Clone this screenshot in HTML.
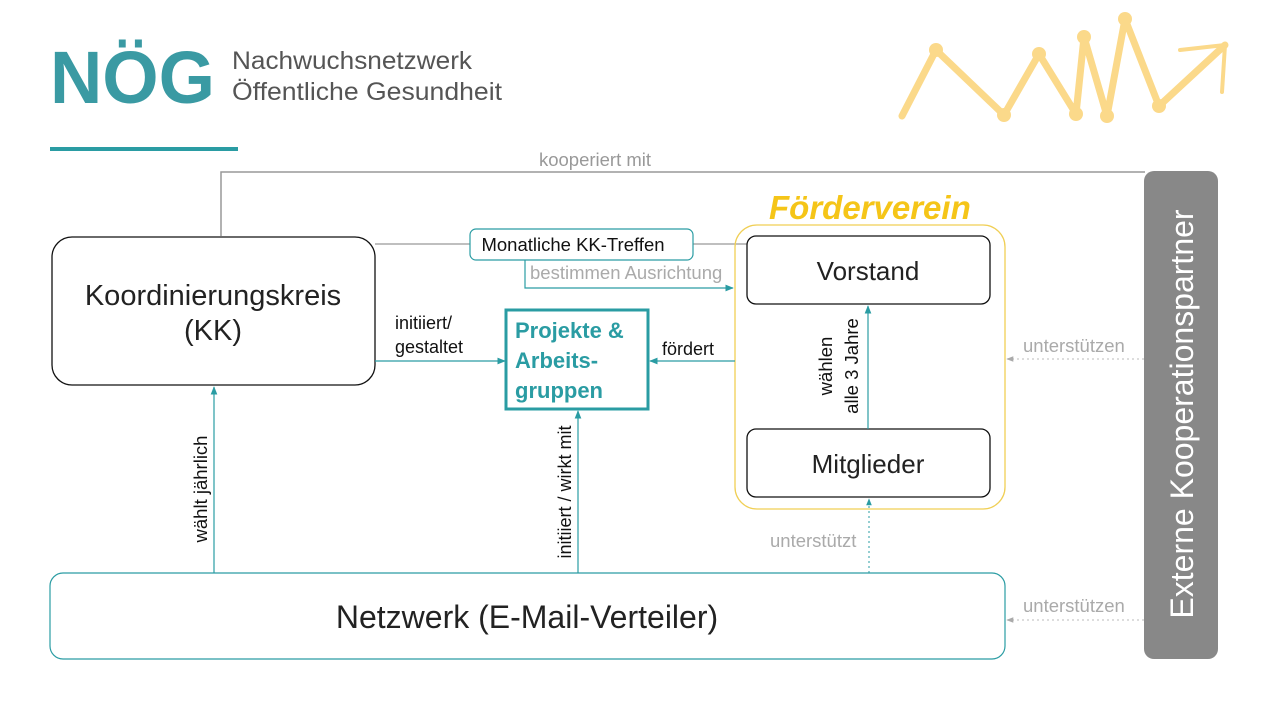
<!DOCTYPE html>
<html><head><meta charset="utf-8"><style>html,body{margin:0;padding:0;background:#fff}svg{display:block}</style></head>
<body>
<svg width="1280" height="720" viewBox="0 0 1280 720" xmlns="http://www.w3.org/2000/svg" font-family="Liberation Sans, sans-serif">
<defs>
<marker id="at" viewBox="0 0 10 10" refX="9" refY="5" markerWidth="7" markerHeight="7" orient="auto"><path d="M0,1 L10,5 L0,9 z" fill="#2a9ca3"/></marker>
<marker id="ag" viewBox="0 0 10 10" refX="9" refY="5" markerWidth="7" markerHeight="7" orient="auto"><path d="M0,1 L10,5 L0,9 z" fill="#aaa"/></marker>
</defs>
<!-- logo -->
<text x="50" y="103" font-size="74" font-weight="bold" fill="#3a9aa3" textLength="165" lengthAdjust="spacingAndGlyphs">NÖG</text>
<text x="232" y="69" font-size="25" fill="#555" textLength="240" lengthAdjust="spacingAndGlyphs">Nachwuchsnetzwerk</text>
<text x="232" y="100" font-size="25" fill="#555" textLength="270" lengthAdjust="spacingAndGlyphs">Öffentliche Gesundheit</text>
<rect x="50" y="147" width="188" height="4" fill="#2a9ca3"/>
<!-- sparkline -->
<g stroke="#fbd98a" stroke-width="7" fill="none" stroke-linecap="round" stroke-linejoin="round">
<polyline points="902,116 936,50 1004,115 1039,54 1076,114 1084,37 1107,116 1125,19 1159,106 1225,45"/>
<polyline points="1180,50 1225,45 1222,92" stroke-width="4"/>
</g>
<g fill="#fbd98a"><circle cx="936" cy="50" r="7"/><circle cx="1004" cy="115" r="7"/><circle cx="1039" cy="54" r="7"/><circle cx="1076" cy="114" r="7"/><circle cx="1084" cy="37" r="7"/><circle cx="1107" cy="116" r="7"/><circle cx="1125" cy="19" r="7"/><circle cx="1159" cy="106" r="7"/></g>
<!-- kooperiert -->
<polyline points="221,236 221,172 1145,172" fill="none" stroke="#999" stroke-width="1.5"/>
<text x="595" y="166" font-size="18.5" fill="#999" text-anchor="middle">kooperiert mit</text>
<!-- KK -->
<rect x="52" y="237" width="323" height="148" rx="20" fill="#fff" stroke="#111" stroke-width="1.3"/>
<text x="213" y="305" font-size="29" fill="#222" text-anchor="middle">Koordinierungskreis</text>
<text x="213" y="340" font-size="29" fill="#222" text-anchor="middle">(KK)</text>
<line x1="375" y1="244" x2="470" y2="244" stroke="#999" stroke-width="1.2"/>
<line x1="693" y1="244" x2="747" y2="244" stroke="#999" stroke-width="1.2"/>
<rect x="470" y="229" width="223" height="31" rx="6" fill="#fff" stroke="#2a9ca3" stroke-width="1.2"/>
<text x="573" y="251" font-size="18.5" fill="#111" text-anchor="middle">Monatliche KK-Treffen</text>
<polyline points="525,260 525,288 733,288" fill="none" stroke="#2a9ca3" stroke-width="1.2" marker-end="url(#at)"/>
<text x="530" y="279" font-size="18.5" fill="#aaa">bestimmen Ausrichtung</text>
<!-- Förderverein -->
<rect x="735" y="225" width="270" height="284" rx="22" fill="none" stroke="#f0cf55" stroke-width="1.3"/>
<text x="769" y="219" font-size="33" font-weight="bold" font-style="italic" fill="#f5c518">Förderverein</text>
<rect x="747" y="236" width="243" height="68" rx="9" fill="#fff" stroke="#111" stroke-width="1.3"/>
<text x="868" y="280" font-size="26" fill="#222" text-anchor="middle">Vorstand</text>
<rect x="747" y="429" width="243" height="68" rx="9" fill="#fff" stroke="#111" stroke-width="1.3"/>
<text x="868" y="473" font-size="26" fill="#222" text-anchor="middle">Mitglieder</text>
<line x1="868" y1="429" x2="868" y2="306" stroke="#2a9ca3" stroke-width="1.2" marker-end="url(#at)"/>
<text transform="translate(832,366) rotate(-90)" font-size="18.5" fill="#111" text-anchor="middle">wählen</text>
<text transform="translate(858,366) rotate(-90)" font-size="18.5" fill="#111" text-anchor="middle">alle 3 Jahre</text>
<!-- Projekte -->
<rect x="506" y="310" width="142" height="99" fill="#fff" stroke="#2a9ca3" stroke-width="3"/>
<text font-size="22" font-weight="bold" fill="#2a9ca3"><tspan x="515" y="338">Projekte &amp;</tspan><tspan x="515" y="368">Arbeits-</tspan><tspan x="515" y="398">gruppen</tspan></text>
<line x1="375" y1="361" x2="505" y2="361" stroke="#2a9ca3" stroke-width="1.2" marker-end="url(#at)"/>
<text font-size="18" fill="#111"><tspan x="395" y="329">initiiert/</tspan><tspan x="395" y="353">gestaltet</tspan></text>
<line x1="735" y1="361" x2="650" y2="361" stroke="#2a9ca3" stroke-width="1.2" marker-end="url(#at)"/>
<text x="662" y="355" font-size="18" fill="#111">fördert</text>
<!-- Netzwerk -->
<rect x="50" y="573" width="955" height="86" rx="13" fill="#fff" stroke="#2a9ca3" stroke-width="1.2"/>
<text x="527" y="628" font-size="32" fill="#222" text-anchor="middle">Netzwerk (E-Mail-Verteiler)</text>
<line x1="214" y1="573" x2="214" y2="387" stroke="#2a9ca3" stroke-width="1.2" marker-end="url(#at)"/>
<text transform="translate(207,489) rotate(-90)" font-size="18.5" fill="#111" text-anchor="middle">wählt jährlich</text>
<line x1="578" y1="573" x2="578" y2="411" stroke="#2a9ca3" stroke-width="1.2" marker-end="url(#at)"/>
<text transform="translate(571,492) rotate(-90)" font-size="18" fill="#111" text-anchor="middle">initiiert  / wirkt mit</text>
<line x1="869" y1="573" x2="869" y2="499" stroke="#2a9ca3" stroke-width="1" stroke-dasharray="2,3" marker-end="url(#at)"/>
<text x="770" y="547" font-size="18.5" fill="#aaa">unterstützt</text>
<!-- Extern -->
<rect x="1144" y="171" width="74" height="488" rx="10" fill="#888"/>
<text transform="translate(1193,414) rotate(-90)" font-size="32" fill="#fff" text-anchor="middle">Externe Kooperationspartner</text>
<line x1="1144" y1="359" x2="1007" y2="359" stroke="#bbb" stroke-width="1" stroke-dasharray="2,3" marker-end="url(#ag)"/>
<text x="1023" y="352" font-size="18.5" fill="#aaa">unterstützen</text>
<line x1="1144" y1="620" x2="1007" y2="620" stroke="#bbb" stroke-width="1" stroke-dasharray="2,3" marker-end="url(#ag)"/>
<text x="1023" y="612" font-size="18.5" fill="#aaa">unterstützen</text>
</svg>
</body></html>
